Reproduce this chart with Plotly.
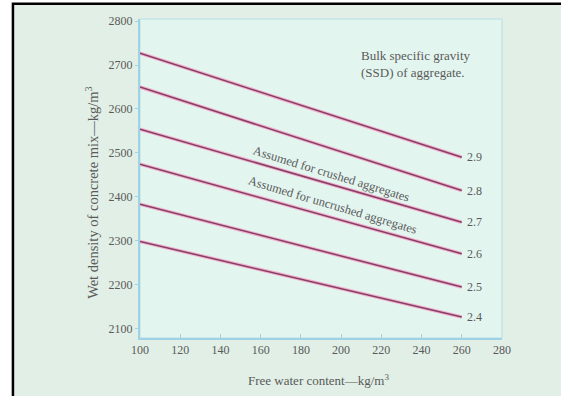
import plotly.graph_objects as go

gravity_labels = ["2.4", "2.5", "2.6", "2.7", "2.8", "2.9"]
water_content = [100, 260]
density_at_100 = [2298, 2383, 2474, 2554, 2650, 2727]
density_at_260 = [2126, 2194, 2270, 2342, 2414, 2490]
x_ticks = [100, 120, 140, 160, 180, 200, 220, 240, 260, 280]
y_ticks = [2100, 2200, 2300, 2400, 2500, 2600, 2700, 2800]

SERIF = "Liberation Serif"
TXT = "#5a5a5a"
AXIS_BLUE = "#9fd2e4"

fig = go.Figure()

for lab, y0, y1 in zip(gravity_labels, density_at_100, density_at_260):
    fig.add_trace(go.Scatter(x=water_content, y=[y0, y1], mode="lines",
                             line=dict(color="#f4b0cb", width=3.6),
                             hoverinfo="skip", showlegend=False))
    fig.add_trace(go.Scatter(x=water_content, y=[y0, y1], mode="lines",
                             line=dict(color="#844068", width=1.5),
                             name=lab, showlegend=False))
    fig.add_annotation(x=water_content[1], y=y1, text=lab, showarrow=False,
                       xanchor="left", yanchor="middle", xshift=3,
                       font=dict(family=SERIF, size=12, color=TXT))

fig.add_annotation(x=0.605, y=0.915, xref="paper", yref="paper",
                   text="Bulk specific gravity<br>(SSD) of aggregate.",
                   showarrow=False, xanchor="left", yanchor="top", align="left",
                   font=dict(family=SERIF, size=13, color=TXT))
fig.add_annotation(x=195, y=2452, text="Assumed for crushed aggregates",
                   showarrow=False, textangle=17,
                   font=dict(family=SERIF, size=12.5, color=TXT))
fig.add_annotation(x=195.5, y=2381, text="Assumed for uncrushed aggregates",
                   showarrow=False, textangle=16.5,
                   font=dict(family=SERIF, size=12.5, color=TXT))

# axis titles
fig.add_annotation(x=0.492, y=-0.132, xref="paper", yref="paper",
                   text="Free water content—kg/m<sup>3</sup>", showarrow=False,
                   xanchor="center", yanchor="middle",
                   font=dict(family=SERIF, size=13, color=TXT))
fig.add_annotation(x=-0.1326, y=0.455, xref="paper", yref="paper",
                   text="Wet density of concrete mix—kg/m<sup>3</sup>", showarrow=False,
                   textangle=-90, xanchor="center", yanchor="middle",
                   font=dict(family=SERIF, size=14.5, color=TXT))

# outer framed background
fig.add_shape(type="rect", xref="paper", yref="paper",
              x0=-0.351, x1=1.25, y0=-0.25, y1=1.048,
              fillcolor="#e1efe6", line=dict(color="black", width=2.5),
              layer="below")
fig.add_shape(type="rect", xref="paper", yref="paper",
              x0=0, x1=1, y0=0, y1=1,
              fillcolor="#e3f5ef", line=dict(color="#b8dde6", width=1),
              layer="below")

fig.update_layout(
    width=561, height=396,
    margin=dict(l=140, r=59, t=19, b=58, autoexpand=False),
    paper_bgcolor="white",
    plot_bgcolor="rgba(0,0,0,0)",
    showlegend=False,
    xaxis=dict(range=[100, 280], tickvals=x_ticks, ticks="inside", ticklen=4,
               tickcolor=AXIS_BLUE, showgrid=False, zeroline=False,
               showline=True, linecolor=AXIS_BLUE, linewidth=2, automargin=False,
               tickfont=dict(family=SERIF, size=12, color=TXT)),
    yaxis=dict(range=[2078, 2805], tickvals=y_ticks, ticks="outside", ticklen=3,
               tickcolor=AXIS_BLUE, showgrid=False, zeroline=False,
               showline=True, linecolor=AXIS_BLUE, linewidth=2, automargin=False,
               tickfont=dict(family=SERIF, size=12, color=TXT)),
)

fig.write_html("out.html", config={"displayModeBar": False},
               post_script="document.body.style.margin='0';document.body.style.overflow='hidden';")
